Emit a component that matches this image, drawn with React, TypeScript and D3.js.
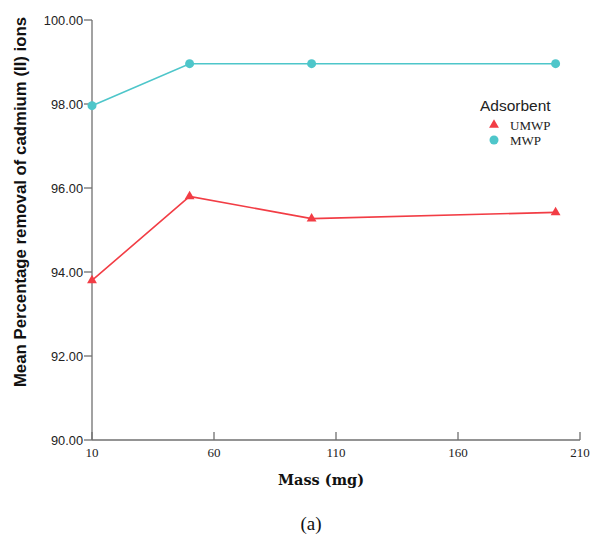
import React from "react";
import * as d3 from "d3";

const masses = [10, 50, 100, 200];
const umwp = [93.8, 95.8, 95.27, 95.42];
const mwp = [97.96, 98.96, 98.96, 98.96];
const xTicks = [10, 60, 110, 160, 210];
const yTicks = [90, 92, 94, 96, 98, 100];
const seriesNames = ["UMWP", "MWP"];

const RED = "#f23d45";
const TEAL = "#4ec6ca";

export default function App() {
  const W = 593, H = 537;
  const x = d3.scaleLinear().domain([10, 210]).range([92, 580]);
  const y = d3.scaleLinear().domain([90, 100]).range([440, 20]);
  const line = d3.line<[number, number]>().x(d => x(d[0])).y(d => y(d[1]));
  const uPts: [number, number][] = masses.map((m, i) => [m, umwp[i]]);
  const mPts: [number, number][] = masses.map((m, i) => [m, mwp[i]]);
  const tri = d3.symbol().type(d3.symbolTriangle).size(42)();
  const axisColor = "#707070";
  return (
    <svg width={W} height={H} style={{ position: "absolute", left: 0, top: 0, background: "#fff" }}>
      {/* axes */}
      <line x1={92} x2={92} y1={20} y2={440} stroke={axisColor} strokeWidth={1.3} />
      <line x1={92} x2={580} y1={440} y2={440} stroke={axisColor} strokeWidth={1.3} />
      {yTicks.map(t => (
        <g key={"y" + t}>
          <line x1={84} x2={92} y1={y(t)} y2={y(t)} stroke={axisColor} strokeWidth={1.3} />
          <text x={83} y={y(t) + 4.5} textAnchor="end" fontFamily="Liberation Sans, Arial, sans-serif" fontSize={12.8} fill="#222">
            {t.toFixed(2)}
          </text>
        </g>
      ))}
      {xTicks.map(t => (
        <g key={"x" + t}>
          <line x1={x(t)} x2={x(t)} y1={440} y2={432} stroke={axisColor} strokeWidth={1.3} />
          <text x={x(t)} y={457} textAnchor="middle" fontFamily="Liberation Serif, Times New Roman, serif" fontSize={13} fill="#222">
            {t}
          </text>
        </g>
      ))}
      <text x={321} y={485} textAnchor="middle" fontFamily="DejaVu Serif, serif" fontWeight="bold" fontSize={14.5} fill="#111">
        Mass (mg)
      </text>
      <text transform="translate(26,202) rotate(-90)" textAnchor="middle" fontFamily="Liberation Sans, Arial, sans-serif" fontWeight="bold" fontSize={16.8} fill="#111">
        Mean Percentage removal of cadmium (II) ions
      </text>
      <text x={311} y={530} textAnchor="middle" fontFamily="Liberation Serif, Times New Roman, serif" fontSize={19} fill="#111">
        (a)
      </text>
      {/* lines */}
      <path d={line(mPts) || ""} fill="none" stroke={TEAL} strokeWidth={1.6} />
      <path d={line(uPts) || ""} fill="none" stroke={RED} strokeWidth={1.6} />
      {mPts.map((p, i) => (
        <circle key={"m" + i} cx={x(p[0])} cy={y(p[1])} r={4.5} fill={TEAL} />
      ))}
      {uPts.map((p, i) => (
        <path key={"u" + i} d={tri || ""} transform={`translate(${x(p[0])},${y(p[1])})`} fill={RED} />
      ))}
      {/* legend */}
      <text x={480} y={111} fontFamily="Liberation Sans, Arial, sans-serif" fontSize={15.5} fill="#222">
        Adsorbent
      </text>
      <path d={tri || ""} transform="translate(494,125)" fill={RED} />
      <text x={510} y={130} fontFamily="Liberation Serif, Times New Roman, serif" fontSize={13} fill="#222">
        {seriesNames[0]}
      </text>
      <circle cx={494} cy={140} r={4.5} fill={TEAL} />
      <text x={510} y={145} fontFamily="Liberation Serif, Times New Roman, serif" fontSize={13} fill="#222">
        {seriesNames[1]}
      </text>
    </svg>
  );
}
